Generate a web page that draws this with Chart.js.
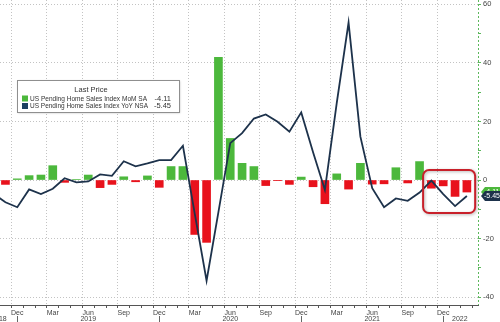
<!DOCTYPE html>
<html>
<head>
<meta charset="utf-8">
<script src="https://cdn.jsdelivr.net/npm/chart.js@4.4.1/dist/chart.umd.min.js"></script>
<style>
  html, body { margin: 0; padding: 0; background: #fff; }
  #wrap { width: 500px; height: 322px; position: relative; }
</style>
</head>
<body>
<div id="wrap"><canvas id="chart"></canvas></div>
<script>
// Monthly readings, Oct 2018 .. Feb 2022
const months = [
  '2018-10', '2018-11', '2018-12',
  '2019-01', '2019-02', '2019-03', '2019-04', '2019-05', '2019-06',
  '2019-07', '2019-08', '2019-09', '2019-10', '2019-11', '2019-12',
  '2020-01', '2020-02', '2020-03', '2020-04', '2020-05', '2020-06',
  '2020-07', '2020-08', '2020-09', '2020-10', '2020-11', '2020-12',
  '2021-01', '2021-02', '2021-03', '2021-04', '2021-05', '2021-06',
  '2021-07', '2021-08', '2021-09', '2021-10', '2021-11', '2021-12',
  '2022-01', '2022-02'
];
// MoM SA, % change (bars)
const momSA = [
  null, -1.5, 0.4,
  1.5, 1.7, 4.9, -0.8, 0.2, 1.7,
  -2.6, -1.5, 1.1, -0.6, 1.4, -2.5,
  4.6, 4.6, -18.6, -21.3, 41.9, 14.2,
  5.7, 4.6, -1.9, -0.1, -1.5, 1.0,
  -2.3, -8.1, 2.1, -3.1, 5.7, -1.4,
  -1.3, 4.2, -1.0, 6.3, -2.8, -2.0,
  -5.6, -4.11
];
// YoY NSA, % change (line)
const yoyNSA = [
  -4.7, -7.6, -9.3,
  -3.2, -4.8, -3.0, 0.6, -0.8, -0.5,
  1.9, 1.4, 6.4, 4.7, 5.7, 6.8,
  6.8, 11.7, -11.5, -34.4, -11.0, 12.6,
  16.0, 21.0, 22.4, 19.9, 16.5, 23.1,
  9.5, -3.4, 26.3, 53.8, 14.8, -2.8,
  -9.3, -6.3, -7.1, -4.3, -0.2, -4.8,
  -8.9, -5.45
];
const seriesNames = ['US Pending Home Sales Index MoM SA', 'US Pending Home Sales Index YoY NSA'];
const monthNames = ['Jan', 'Feb', 'Mar', 'Apr', 'May', 'Jun', 'Jul', 'Aug', 'Sep', 'Oct', 'Nov', 'Dec'];
const yearLabels = ['2018', '2019', '2020', '2021', '2022'];
const yTicks = [-40, -30, -20, -10, 0, 10, 20, 30, 40, 50, 60];

const GREEN = '#4cb83c';
const RED = '#e8121c';
const NAVY = '#1d324b';
const GRID = '#c3c3c3';
const TEXT = '#444';
const FONT = '"Liberation Sans", Arial, sans-serif';

const monthOf = i => +months[i].slice(5);
const isQuarter = i => months[i] && monthOf(i) % 3 === 0;

const overlays = {
  id: 'overlays',
  afterDatasetsDraw(chart) {
    // red rounded box around the latest readings
    const { ctx, scales: { x, y } } = chart;
    const hl = chart.options.plugins.overlays.highlight;
    const x0 = x.getPixelForValue(hl.from), x1 = x.getPixelForValue(hl.to);
    const y0 = y.getPixelForValue(hl.top), y1 = y.getPixelForValue(hl.bottom);
    ctx.save();
    ctx.shadowColor = 'rgba(0,0,0,0.3)';
    ctx.shadowBlur = 3;
    ctx.shadowOffsetX = 1;
    ctx.shadowOffsetY = 1;
    ctx.strokeStyle = '#c8202a';
    ctx.lineWidth = 2;
    ctx.beginPath();
    ctx.roundRect(x0, y0, x1 - x0, y1 - y0, 6);
    ctx.stroke();
    ctx.restore();
  },
  afterDraw(chart) {
    const { ctx, chartArea: area, scales: { x, y } } = chart;
    const opts = chart.options.plugins.overlays;
    ctx.save();

    // dotted green value axis
    ctx.strokeStyle = '#5cb85c';
    ctx.lineWidth = 1;
    ctx.setLineDash([2, 2]);
    ctx.beginPath();
    ctx.moveTo(area.right + 0.5, area.top);
    ctx.lineTo(area.right + 0.5, area.bottom);
    ctx.stroke();
    ctx.setLineDash([]);

    // year row under the month labels
    ctx.font = '7px ' + FONT;
    ctx.fillStyle = TEXT;
    ctx.textAlign = 'center';
    ctx.textBaseline = 'middle';
    yearLabels.forEach((label, k) => {
      ctx.fillText(label, x.getPixelForValue(opts.yearAt[k]), 319);
    });
    ctx.strokeStyle = '#666';
    months.forEach((m, i) => {
      if (monthOf(i) !== 12) return;
      const px = Math.round(x.getPixelForValue(i)) + 0.5;
      ctx.beginPath();
      ctx.moveTo(px, 316);
      ctx.lineTo(px, 322);
      ctx.stroke();
    });

    // last-value tags on the right axis
    const tags = [
      { v: momSA[momSA.length - 1], c: GREEN },
      { v: yoyNSA[yoyNSA.length - 1], c: NAVY }
    ];
    tags.forEach(t => {
      const py = y.getPixelForValue(t.v);
      const tx = area.right + 3;
      ctx.fillStyle = t.c;
      ctx.beginPath();
      ctx.moveTo(tx, py);
      ctx.lineTo(tx + 4, py - 5);
      ctx.lineTo(502, py - 5);
      ctx.lineTo(502, py + 5);
      ctx.lineTo(tx + 4, py + 5);
      ctx.closePath();
      ctx.fill();
      ctx.fillStyle = '#fff';
      ctx.textAlign = 'left';
      ctx.font = '7px ' + FONT;
      ctx.fillText(t.v.toFixed(2), tx + 3, py + 0.5, 16);
    });

    // legend box
    const L = opts.legendBox;
    ctx.save();
    ctx.shadowColor = 'rgba(0,0,0,0.25)';
    ctx.shadowBlur = 2;
    ctx.shadowOffsetX = 1;
    ctx.shadowOffsetY = 1;
    ctx.fillStyle = '#fff';
    ctx.fillRect(L.x, L.y, L.w, L.h);
    ctx.restore();
    ctx.strokeStyle = '#8f8f8f';
    ctx.strokeRect(L.x + 0.5, L.y + 0.5, L.w, L.h);
    ctx.fillStyle = '#333';
    ctx.font = '7.5px ' + FONT;
    ctx.textAlign = 'center';
    ctx.fillText('Last Price', L.x + 74, L.y + 10);
    const rows = [
      { name: seriesNames[0], v: momSA[momSA.length - 1], c: GREEN },
      { name: seriesNames[1], v: yoyNSA[yoyNSA.length - 1], c: '#1b3f60' }
    ];
    rows.forEach((r, k) => {
      const ry = L.y + 18.5 + k * 7.5;
      ctx.fillStyle = r.c;
      ctx.fillRect(L.x + 5, ry - 3, 6, 6);
      ctx.fillStyle = '#333';
      ctx.font = '7.5px ' + FONT;
      ctx.textAlign = 'left';
      // squeeze the long series names to the narrow box width
      ctx.fillText(r.name, L.x + 13, ry, k === 0 ? 117 : 118);
      ctx.textAlign = 'right';
      ctx.fillText(r.v.toFixed(2), L.x + 154, ry);
    });
    ctx.restore();
  }
};

new Chart(document.getElementById('chart'), {
  data: {
    datasets: [
      {
        type: 'line',
        order: 0,
        data: yoyNSA.map((v, i) => ({ x: i, y: v })),
        borderColor: NAVY,
        borderWidth: 1.8,
        pointRadius: 0,
        tension: 0,
        fill: false
      },
      {
        type: 'bar',
        order: 1,
        data: momSA.map((v, i) => ({ x: i, y: v })),
        backgroundColor: ctx => (ctx.raw && ctx.raw.y < 0 ? RED : GREEN),
        barThickness: 8
      }
    ]
  },
  options: {
    responsive: true,
    maintainAspectRatio: false,
    animation: false,
    layout: { padding: 0 },
    plugins: {
      legend: { display: false },
      tooltip: { enabled: false },
      overlays: {
        highlight: { from: 36.3, to: 40.7, top: 3.4, bottom: -11.3 },
        yearAt: [0.45, 8, 20, 32, 39.4],
        legendBox: { x: 17, y: 80, w: 162, h: 32 }
      }
    },
    scales: {
      x: {
        type: 'linear',
        min: 0.54,
        max: 40.94,
        offset: false,
        afterBuildTicks: s => {
          s.ticks = months.map((m, i) => ({ value: i })).filter(t => t.value >= s.min && t.value <= s.max);
        },
        afterFit: s => { s.height = 17; s.paddingLeft = 0; s.paddingRight = 0; },
        ticks: {
          autoSkip: false,
          maxRotation: 0,
          padding: 1,
          color: TEXT,
          font: { family: FONT, size: 7 },
          callback: v => (isQuarter(v) ? monthNames[monthOf(v) - 1] : '')
        },
        grid: {
          color: c => (c.tick && isQuarter(c.tick.value) ? GRID : 'rgba(0,0,0,0)'),
          tickColor: '#555',
          tickLength: 3,
          tickBorderDash: []
        },
        border: { display: true, color: '#555', width: 1, dash: [1, 2] }
      },
      y: {
        position: 'right',
        min: -42.7,
        max: 61.5,
        afterBuildTicks: s => { s.ticks = yTicks.map(v => ({ value: v })); },
        afterFit: s => { s.width = 22; s.paddingTop = 0; s.paddingBottom = 0; },
        ticks: {
          padding: 2,
          color: TEXT,
          font: { family: FONT, size: 7.5 },
          callback: v => (v % 20 === 0 ? String(v) : '')
        },
        grid: {
          color: c => (c.tick && c.tick.value % 20 === 0 ? GRID : 'rgba(0,0,0,0)'),
          tickColor: '#5cb85c',
          tickLength: 3,
          tickBorderDash: []
        },
        border: { display: false, dash: [1, 2] }
      }
    }
  },
  plugins: [overlays]
});
</script>
</body>
</html>
